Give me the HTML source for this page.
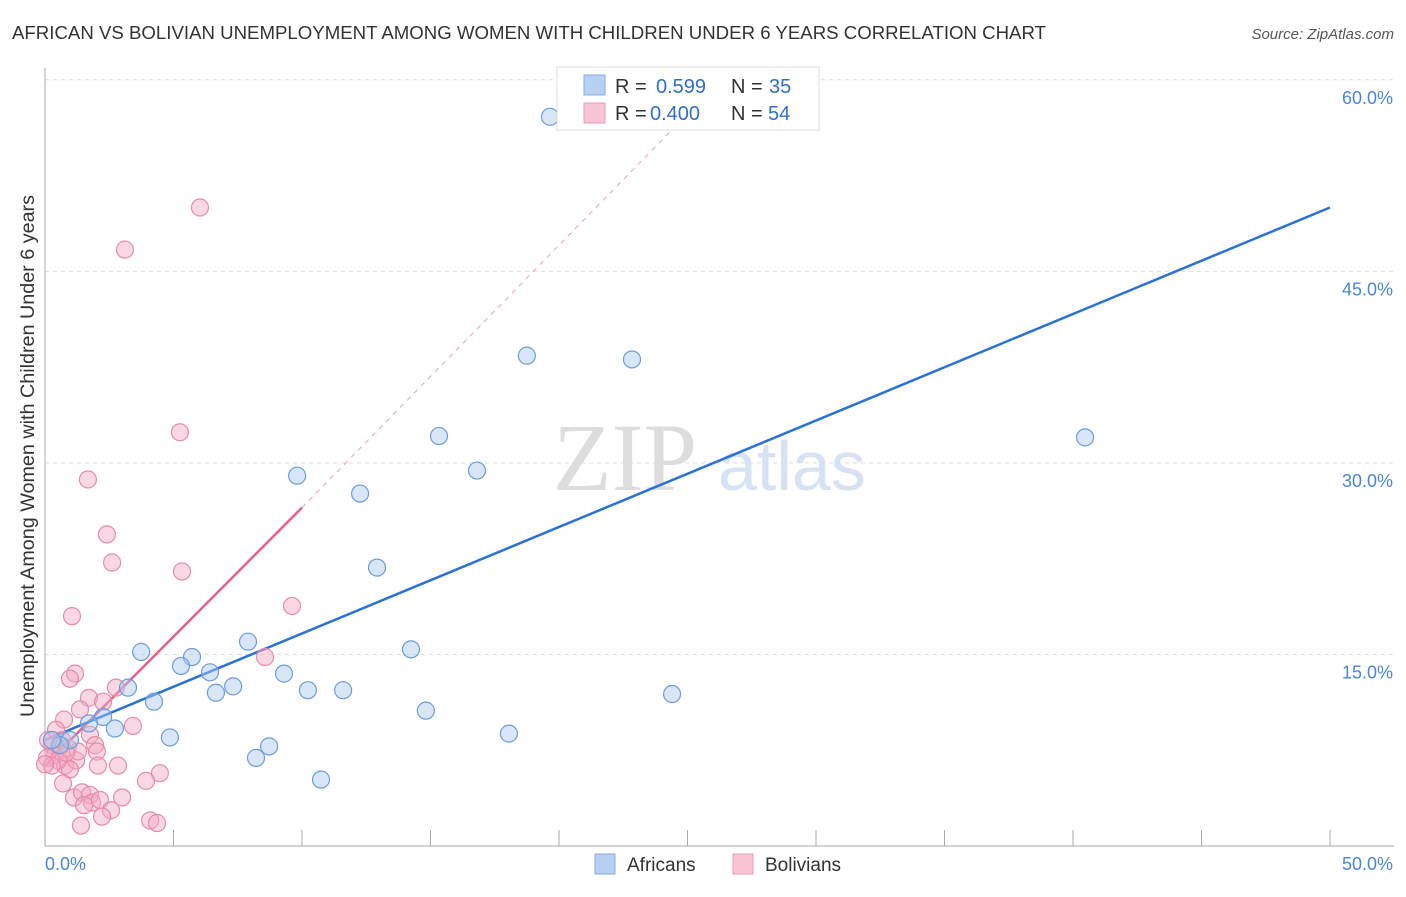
<!DOCTYPE html>
<html><head><meta charset="utf-8"><style>
body{margin:0;background:#fff;font-family:"Liberation Sans",sans-serif;}
</style></head><body>
<svg id="c" width="1406" height="892" xmlns="http://www.w3.org/2000/svg">
<text x="12" y="39" font-size="18.5" fill="#333" textLength="1034" lengthAdjust="spacingAndGlyphs">AFRICAN VS BOLIVIAN UNEMPLOYMENT AMONG WOMEN WITH CHILDREN UNDER 6 YEARS CORRELATION CHART</text>
<text x="1394" y="39" font-size="15" fill="#555" font-style="italic" text-anchor="end">Source: ZipAtlas.com</text>
<text x="34" y="456" font-size="19" fill="#333" text-anchor="middle" textLength="522" lengthAdjust="spacingAndGlyphs" transform="rotate(-90 34 456)">Unemployment Among Women with Children Under 6 years</text>
<g><text x="553" y="490" font-size="96" fill="#ddd" font-family="Liberation Serif,serif">ZIP</text><text x="718" y="490" font-size="70" fill="#d6e3f5">atlas</text></g>
<g id="grid"></g><g id="axes"></g><g id="lines"></g><g id="pts"></g>
<g>
<rect x="557" y="67" width="262" height="63" fill="#fff" stroke="#ddd"/>
<rect x="584" y="75" width="21" height="20" fill="#b5d0f3" stroke="#80aee6"/>
<rect x="584" y="103" width="21" height="20" fill="#f9c5d5" stroke="#ec9ab4"/>
<text x="615" y="93" font-size="20" fill="#333">R = </text><text x="656" y="93" font-size="20" fill="#2f6fd0">0.599</text>
<text x="731" y="93" font-size="20" fill="#333">N = </text><text x="769" y="93" font-size="20" fill="#2f6fd0">35</text>
<text x="615" y="120" font-size="20" fill="#333">R = </text><text x="650" y="120" font-size="20" fill="#2f6fd0">0.400</text>
<text x="731" y="120" font-size="20" fill="#333">N = </text><text x="768" y="120" font-size="20" fill="#2f6fd0">54</text>
</g>
<g>
<rect x="595" y="854" width="20" height="20" fill="#b5d0f3" stroke="#80aee6"/>
<text x="627" y="871" font-size="19" fill="#333">Africans</text>
<rect x="733" y="854" width="20" height="20" fill="#f9c5d5" stroke="#ec9ab4"/>
<text x="765" y="871" font-size="19" fill="#333">Bolivians</text>
</g>
</svg>
<script>
const yTicks=[15,30,45,60];
const yTickLabels=["15.0%","30.0%","45.0%","60.0%"];
const xTicks=[0,5,10,15,20,25,30,35,40,45,50];
const africansX=[19.65,18.75,22.84,15.33,40.47,16.81,9.81,12.26,12.92,7.90,3.74,5.72,5.29,6.42,9.30,14.24,3.23,7.32,6.65,10.23,11.60,24.40,4.24,2.26,1.71,14.82,2.72,4.86,18.05,0.97,0.58,8.72,8.21,10.74,0.27];
const africansY=[57.1,38.4,38.1,32.1,32.0,29.4,29.0,27.6,21.8,16.0,15.2,14.8,14.1,13.6,13.5,15.4,12.4,12.5,12.0,12.2,12.2,11.9,11.3,10.1,9.6,10.6,9.2,8.5,8.8,8.3,7.9,7.8,6.9,5.2,8.3];
const boliviansX=[6.03,3.11,5.25,1.67,2.41,2.61,5.33,1.05,9.61,8.56,1.17,0.97,2.76,1.71,2.26,0.74,1.36,3.42,1.75,1.95,2.02,0.27,0.58,0.39,0.08,0.12,0.66,0.78,1.21,0.97,2.84,2.06,4.47,3.93,0.70,1.13,1.44,1.75,1.83,1.52,2.14,3.00,2.57,2.22,4.09,4.36,1.40,0.51,0.89,0.27,0.43,0.0,1.28,0.82];
const boliviansY=[50.0,46.7,32.4,28.7,24.4,22.2,21.5,18.0,18.8,14.8,13.5,13.1,12.4,11.6,11.3,9.9,10.7,9.4,8.7,7.9,7.4,7.9,7.7,7.1,6.9,8.3,8.3,6.3,6.7,6.0,6.3,6.3,5.7,5.1,4.9,3.8,4.2,4.0,3.4,3.2,3.6,3.8,2.8,2.3,2.0,1.8,1.6,6.7,7.7,6.3,9.1,6.4,7.4,7.3];
const blueTrend=[0,8.3,50,50.0];
const pinkTrend=[0,6.3,10,26.5];
const pinkDashEnd=[24.6,56.5];
const NS="http://www.w3.org/2000/svg";
const sx=v=>45+v*25.7, sy=v=>846-v*12.77;
function mk(t,a,p){const e=document.createElementNS(NS,t);for(const k in a)e.setAttribute(k,a[k]);document.getElementById(p).appendChild(e);return e;}
yTicks.forEach((t,i)=>{
 const g=mk('line',{x1:45,x2:1394,y1:sy(t),y2:sy(t),stroke:'#ddd','stroke-dasharray':'4,4'},'grid');
 
 
 const l=mk('text',{x:1393,y:sy(t)+24,'font-size':18,fill:'#4a86d8','text-anchor':'end'},'axes');l.textContent=yTickLabels[i];
 
 
});
mk('line',{x1:45,x2:45,y1:68,y2:846,stroke:'#aaa'},'axes');
mk('line',{x1:45,x2:1394,y1:846,y2:846,stroke:'#aaa'},'axes');
xTicks.forEach(t=>{const e=mk('line',{x1:sx(t),x2:sx(t),y1:830,y2:846,stroke:'#aaa'},'axes');
 
 });
const x0=mk('text',{x:45,y:870,'font-size':18,fill:'#4a86d8'},'axes');x0.textContent='0.0%';


const x1=mk('text',{x:1393,y:870,'font-size':18,fill:'#4a86d8','text-anchor':'end'},'axes');x1.textContent='50.0%';


function dots(X,Y,fill,stroke,name){X.forEach((x,i)=>{const c=mk('circle',{cx:sx(x),cy:sy(Y[i]),r:8.5,fill:fill,'fill-opacity':0.45,stroke:stroke,'stroke-width':1.2},'pts');
 
 });}
dots(boliviansX,boliviansY,'#f5a8c0','#e88aa8','bolivian-point');
dots(africansX,africansY,'#a9c8f0','#6a9de0','african-point');
const pd=mk('line',{x1:sx(pinkTrend[2]),y1:sy(pinkTrend[3]),x2:sx(pinkDashEnd[0]),y2:sy(pinkDashEnd[1]),stroke:'#eaa0b8','stroke-dasharray':'5,5','stroke-width':1},'lines');


const pl=mk('line',{x1:sx(pinkTrend[0]),y1:sy(pinkTrend[1]),x2:sx(pinkTrend[2]),y2:sy(pinkTrend[3]),stroke:'#e8608a','stroke-width':2.5},'lines');


const bl=mk('line',{x1:sx(blueTrend[0]),y1:sy(blueTrend[1]),x2:sx(blueTrend[2]),y2:sy(blueTrend[3]),stroke:'#2a72d8','stroke-width':2.5},'lines');


</script>
</body></html>
